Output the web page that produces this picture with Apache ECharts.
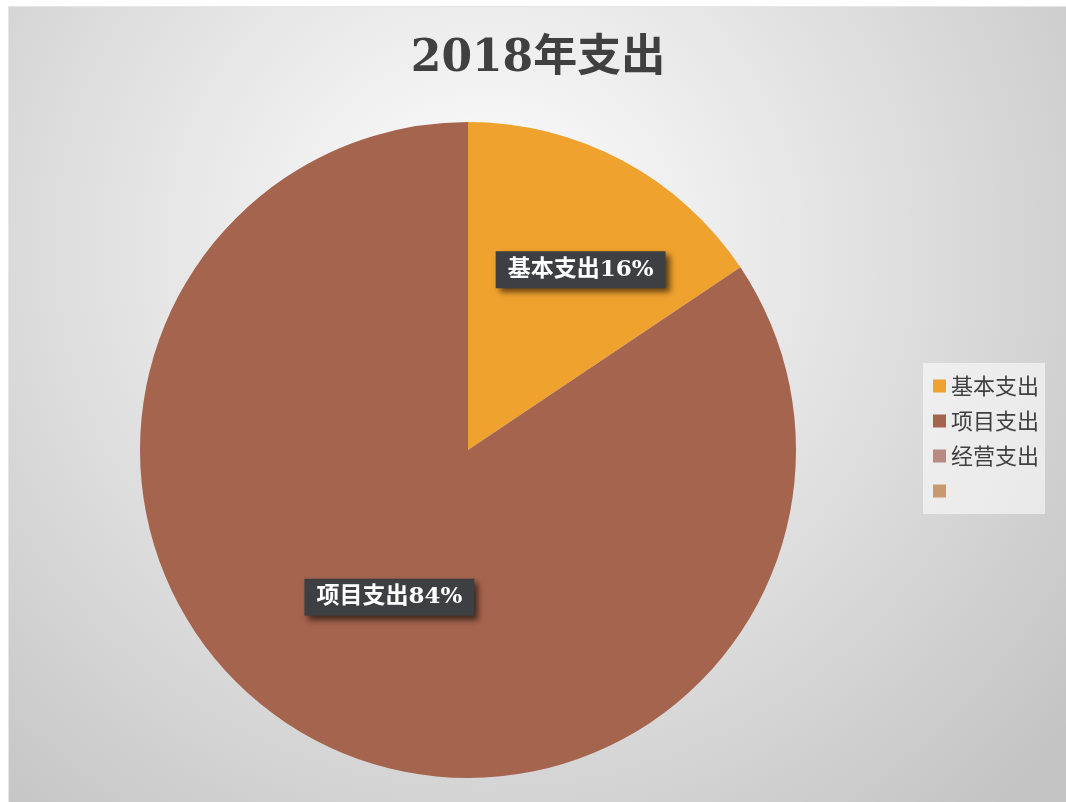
<!DOCTYPE html>
<html><head><meta charset="utf-8">
<script src="https://cdn.jsdelivr.net/npm/echarts@6/dist/echarts.min.js"></script>
<style>
html,body{margin:0;padding:0;background:#fff;width:1066px;height:802px;overflow:hidden;}
#c{position:absolute;left:8px;top:6px;width:1058px;height:796px;border-top:1px solid #e6e6e6;border-left:1px solid #e6e6e6;}
</style></head>
<body><div id="c"></div>
<script>
const titleText = '2018年支出';
const categories = ['基本支出', '项目支出', '经营支出', ' '];
const values = [15.6, 84.4, 0, 0];
const colors = ['#F0A22E', '#A5644E', '#B88A80', '#C9986C'];

const chart = echarts.init(document.getElementById('c'));
const labelStyle = {
  show: true,
  position: 'inside',
  formatter: p => p.name + Math.round(p.percent) + '%',
  color: '#ffffff',
  fontSize: 23,
  fontWeight: 'bold',
  fontFamily: 'DejaVu Serif, Noto Sans CJK SC',
  backgroundColor: '#3d3f42',
  padding: [7, 12, 7, 12],
  shadowColor: 'rgba(0,0,0,0.6)',
  shadowBlur: 6,
  shadowOffsetX: 4,
  shadowOffsetY: 4
};
const data = categories.map((n, i) => {
  const d = { name: n, value: values[i], itemStyle: { color: colors[i] } };
  if (i === 0) d.label = { offset: [34, -33] };
  if (values[i] === 0) d.label = { show: false };
  return d;
});
chart.setOption({
  backgroundColor: {
    type: 'radial', x: 0.45, y: 0.3, r: 0.95,
    colorStops: [{ offset: 0, color: '#ffffff' }, { offset: 1, color: '#c4c4c4' }]
  },
  title: {
    text: titleText, left: 'center', top: 26,
    textStyle: { fontSize: 44, fontWeight: 'bold', color: '#404040', fontFamily: 'DejaVu Serif, Noto Sans CJK SC' }
  },
  legend: {
    orient: 'vertical', left: 914, top: 356,
    data: categories,
    icon: 'rect', itemWidth: 13, itemHeight: 13, itemGap: 13,
    backgroundColor: 'rgba(255,255,255,0.55)',
    padding: [12, 6, 12, 10],
    textStyle: { fontSize: 22, color: '#404040', fontFamily: 'Noto Sans CJK SC' },
    selectedMode: false
  },
  series: [{
    type: 'pie',
    center: [459, 443],
    radius: 328,
    startAngle: 90,
    clockwise: true,
    avoidLabelOverlap: false,
    label: labelStyle,
    labelLine: { show: false },
    emphasis: { disabled: true },
    itemStyle: { borderWidth: 0 },
    data: data
  }]
});
</script></body></html>
